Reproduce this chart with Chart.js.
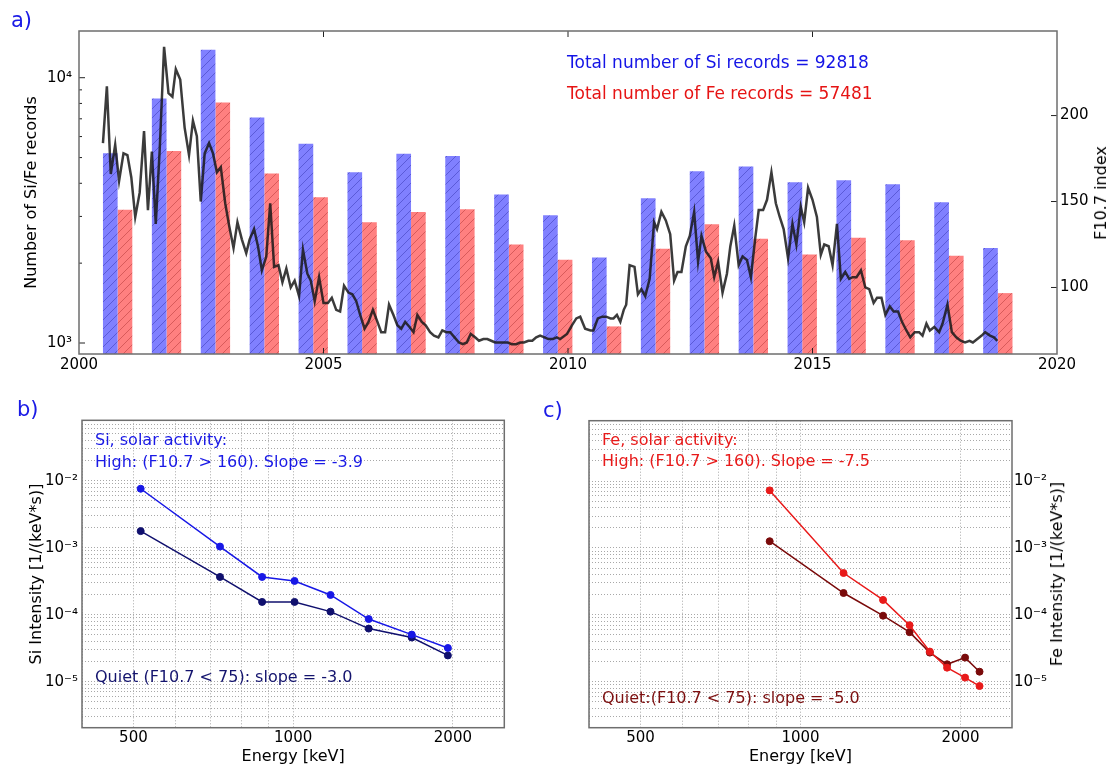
<!DOCTYPE html>
<html>
<head>
<meta charset="utf-8">
<script src="https://cdn.jsdelivr.net/npm/chart.js@4.4.1/dist/chart.umd.min.js"></script>
<style>
  html, body { margin: 0; padding: 0; background: #fff; }
  body { width: 1111px; height: 767px; position: relative; overflow: hidden; font-family: "DejaVu Sans", sans-serif; }
  canvas { position: absolute; }
  .t { position: absolute; white-space: nowrap; line-height: 1; transform: translateY(-50%); }
  .rot { position: absolute; white-space: nowrap; line-height: 1; transform: translate(-50%, -50%) rotate(-90deg); }
</style>
</head>
<body>
<canvas id="a" width="1111" height="380" style="left:0;top:0"></canvas>
<canvas id="b" width="555" height="387" style="left:0;top:380px"></canvas>
<canvas id="c" width="556" height="387" style="left:555px;top:380px"></canvas>

<div class="t" style="left:11px;top:20px;font-size:21px;color:#1a1ae6">a)</div>
<div class="t" style="left:567px;top:62px;font-size:17px;color:#1414e6">Total number of Si records = 92818</div>
<div class="t" style="left:567px;top:93px;font-size:17px;color:#e61414">Total number of Fe records = 57481</div>
<div class="rot" style="left:1101px;top:193px;font-size:16px;color:#000">F10.7 index</div>

<div class="t" style="left:17px;top:409px;font-size:21px;color:#1a1ae6">b)</div>
<div class="t" style="left:95px;top:440px;font-size:16px;color:#1a1ae6">Si, solar activity:</div>
<div class="t" style="left:95px;top:462px;font-size:16px;color:#1a1ae6">High: (F10.7 &gt; 160). Slope = -3.9</div>
<div class="t" style="left:95px;top:677px;font-size:16px;color:#14146e">Quiet (F10.7 &lt; 75): slope = -3.0</div>

<div class="t" style="left:543px;top:410px;font-size:21px;color:#1a1ae6">c)</div>
<div class="t" style="left:602px;top:440px;font-size:16px;color:#e81a1a">Fe, solar activity:</div>
<div class="t" style="left:602px;top:461px;font-size:16px;color:#e81a1a">High: (F10.7 &gt; 160). Slope = -7.5</div>
<div class="t" style="left:602px;top:698px;font-size:16px;color:#7d1010">Quiet:(F10.7 &lt; 75): slope = -5.0</div>
<div class="rot" style="left:1057px;top:574px;font-size:16px;color:#000">Fe Intensity [1/(keV*s)]</div>

<script>
// panel a: yearly record counts
const years = [2000, 2001, 2002, 2003, 2004, 2005, 2006, 2007, 2008, 2009,
               2010, 2011, 2012, 2013, 2014, 2015, 2016, 2017, 2018];
const siRecords = [5190, 8356, 12760, 7086, 5643, 4405, 5174, 5072, 3626, 3034,
                   2101, 3516, 4442, 4624, 4036, 4110, 3968, 3396, 2279];
const feRecords = [3177, 5297, 8071, 4351, 3545, 2855, 3120, 3196, 2350, 2059,
                   1155, 2265, 2806, 2470, 2156, 2492, 2442, 2132, 1542];

// panel a: F10.7 index
const fYears = [
  2000.49, 2000.57, 2000.65, 2000.74, 2000.82, 2000.91, 2000.99, 2001.07, 2001.15, 2001.24,
  2001.33, 2001.41, 2001.49, 2001.57, 2001.65, 2001.74, 2001.83, 2001.91, 2001.98, 2002.07,
  2002.16, 2002.25, 2002.33, 2002.41, 2002.49, 2002.57, 2002.66, 2002.74, 2002.82, 2002.90,
  2002.99, 2003.07, 2003.16, 2003.24, 2003.33, 2003.42, 2003.49, 2003.58, 2003.66, 2003.74,
  2003.83, 2003.91, 2003.99, 2004.08, 2004.16, 2004.24, 2004.33, 2004.41, 2004.50, 2004.58,
  2004.67, 2004.74, 2004.82, 2004.91, 2005.00, 2005.09, 2005.17, 2005.26, 2005.34, 2005.42,
  2005.51, 2005.59, 2005.67, 2005.75, 2005.84, 2005.92, 2006.01, 2006.09, 2006.18, 2006.26,
  2006.34, 2006.43, 2006.51, 2006.59, 2006.67, 2006.76, 2006.84, 2006.92, 2007.01, 2007.09,
  2007.18, 2007.26, 2007.35, 2007.43, 2007.51, 2007.59, 2007.68, 2007.77, 2007.85, 2007.93,
  2008.01, 2008.10, 2008.18, 2008.27, 2008.35, 2008.43, 2008.51, 2008.60, 2008.68, 2008.77,
  2008.85, 2008.94, 2009.02, 2009.10, 2009.19, 2009.27, 2009.35, 2009.43, 2009.52, 2009.60,
  2009.69, 2009.77, 2009.84, 2009.98, 2010.08, 2010.17, 2010.25, 2010.35, 2010.46, 2010.52,
  2010.61, 2010.70, 2010.78, 2010.87, 2010.93, 2011.00, 2011.07, 2011.14, 2011.19, 2011.26,
  2011.36, 2011.43, 2011.50, 2011.58, 2011.67, 2011.76, 2011.82, 2011.91, 2012.00, 2012.09,
  2012.17, 2012.24, 2012.32, 2012.41, 2012.49, 2012.58, 2012.66, 2012.73, 2012.82, 2012.92,
  2012.99, 2013.07, 2013.16, 2013.25, 2013.32, 2013.40, 2013.49, 2013.57, 2013.66, 2013.74,
  2013.83, 2013.90, 2013.99, 2014.07, 2014.16, 2014.25, 2014.33, 2014.41, 2014.50, 2014.59,
  2014.67, 2014.76, 2014.83, 2014.91, 2015.00, 2015.09, 2015.17, 2015.24, 2015.33, 2015.41,
  2015.50, 2015.58, 2015.67, 2015.75, 2015.82, 2015.90, 2015.99, 2016.08, 2016.16, 2016.25,
  2016.32, 2016.41, 2016.49, 2016.58, 2016.66, 2016.75, 2016.83, 2016.92, 2017.00, 2017.09,
  2017.18, 2017.25, 2017.33, 2017.40, 2017.49, 2017.59, 2017.66, 2017.76, 2017.85, 2017.94,
  2018.03, 2018.12, 2018.21, 2018.28, 2018.37, 2018.46, 2018.53, 2018.63, 2018.71, 2018.78];
const fIndex = [
  184, 217, 166, 183, 162, 178, 177, 164, 141, 155,
  191, 145, 179, 137, 180, 240, 213, 211, 227, 221,
  193, 177, 197, 188, 150, 178, 184, 178, 167, 170,
  149, 136, 123, 138, 128, 120, 128, 134, 124, 110,
  118, 149, 112, 113, 103, 111, 100, 104, 95, 122,
  108, 104, 92, 106, 91, 91, 94, 87, 86, 101,
  97, 96, 92, 84, 76, 80, 87, 81, 74, 74,
  90, 84, 78, 76, 80, 77, 74, 84, 80, 78,
  74, 72, 71, 75, 74, 74, 71, 68, 67, 68,
  73, 71, 69, 70, 70, 69, 68, 68, 68, 68,
  67, 67, 68, 68, 69, 69, 71, 72, 71, 70,
  70, 71, 70, 73, 78, 82, 83, 76, 75, 75,
  82, 83, 83, 82, 82, 84, 80, 87, 90, 113,
  112, 96, 99, 95, 105, 138, 134, 144, 139, 131,
  104, 109, 109, 124, 130, 144, 115, 130, 121, 117,
  106, 115, 97, 108, 124, 136, 113, 118, 116, 106,
  129, 145, 145, 151, 167, 149, 141, 134, 117, 137,
  125, 147, 138, 158, 151, 141, 119, 125, 124, 113,
  137, 105, 109, 105, 106, 106, 110, 100, 99, 91,
  94, 94, 84, 89, 86, 86, 80, 75, 71, 74,
  74, 72, 79, 75, 77, 74, 79, 90, 74, 71,
  69, 68, 69, 68, 70, 72, 74, 72, 71, 69];

// panels b and c: spectra
const siEnergy = [516, 728, 874, 1006, 1176, 1388, 1673, 1957];
const siHigh = [7.6e-3, 1.04e-3, 3.66e-4, 3.19e-4, 1.97e-4, 8.6e-5, 5.04e-5, 3.18e-5];
const siQuiet = [1.77e-3, 3.66e-4, 1.55e-4, 1.55e-4, 1.11e-4, 6.2e-5, 4.56e-5, 2.46e-5];
const feEnergy = [875, 1205, 1430, 1604, 1751, 1887, 2040, 2172];
const feHigh = [7.26e-3, 4.22e-4, 1.67e-4, 7.0e-5, 2.82e-5, 1.62e-5, 1.15e-5, 8.6e-6];
const feQuiet = [1.26e-3, 2.12e-4, 9.7e-5, 5.5e-5, 2.72e-5, 1.82e-5, 2.29e-5, 1.41e-5];

// ticks
const yearTicks = [2000, 2005, 2010, 2015, 2020];
const f107Ticks = [100, 150, 200];
const countTicks = [1000, 2000, 3000, 4000, 5000, 6000, 7000, 8000, 9000, 10000];
const energyTicks = [500, 1000, 2000];
const energyGrid = [400, 500, 600, 700, 800, 900, 1000, 2000];

Chart.defaults.font.family = '"DejaVu Sans", sans-serif';
Chart.defaults.font.size = 15;
Chart.defaults.color = '#000';

const SUP = { '-': '\u207B', '0': '\u2070', '1': '\u00B9', '2': '\u00B2', '3': '\u00B3',
              '4': '\u2074', '5': '\u2075', '6': '\u2076', '7': '\u2077', '8': '\u2078', '9': '\u2079' };
function pow10Label(v) {
  const e = Math.round(Math.log10(v));
  if (Math.abs(v / Math.pow(10, e) - 1) > 1e-6) return '';
  return '10' + String(e).split('').map(ch => SUP[ch]).join('');
}

const intensityGrid = [];
for (let e = -6; e <= -2; e++) {
  for (let m = 1; m <= 9; m++) {
    const v = m * Math.pow(10, e);
    if (v >= 2.05e-6 && v <= 0.08) intensityGrid.push(v);
  }
}

function hatch(canvas, fill, stroke) {
  const c = document.createElement('canvas');
  c.width = 9; c.height = 9;
  const g = c.getContext('2d');
  g.fillStyle = fill;
  g.fillRect(0, 0, 9, 9);
  g.strokeStyle = stroke;
  g.lineWidth = 1;
  g.beginPath();
  g.moveTo(0, 9); g.lineTo(9, 0);
  g.moveTo(-1, 1); g.lineTo(1, -1);
  g.moveTo(8, 10); g.lineTo(10, 8);
  g.stroke();
  return canvas.getContext('2d').createPattern(c, 'repeat');
}

// box around the plot area plus small inward tick marks
function frame(marks) {
  return {
    id: 'frame',
    afterDraw(chart) {
      const { ctx, chartArea: a } = chart;
      ctx.save();
      ctx.strokeStyle = '#222';
      ctx.lineWidth = 1;
      marks.forEach(m => {
        const s = chart.scales[m.scale];
        m.values.forEach(v => {
          const p = s.getPixelForValue(v);
          ctx.beginPath();
          m.sides.forEach(side => {
            if (side === 'left') { ctx.moveTo(a.left, p); ctx.lineTo(a.left + m.len, p); }
            if (side === 'right') { ctx.moveTo(a.right, p); ctx.lineTo(a.right - m.len, p); }
            if (side === 'bottom') { ctx.moveTo(p, a.bottom); ctx.lineTo(p, a.bottom - m.len); }
            if (side === 'top') { ctx.moveTo(p, a.top); ctx.lineTo(p, a.top + m.len); }
          });
          ctx.stroke();
        });
      });
      ctx.strokeStyle = '#6e6e6e';
      ctx.lineWidth = 1.5;
      ctx.strokeRect(a.left, a.top, a.right - a.left, a.bottom - a.top);
      ctx.restore();
    }
  };
}

// panel a
const canvasA = document.getElementById('a');
new Chart(canvasA, {
  type: 'bar',
  data: {
    datasets: [
      {
        type: 'line',
        data: fYears.map((x, i) => ({ x, y: fIndex[i] })),
        yAxisID: 'y2',
        borderColor: 'rgba(25,25,25,0.85)',
        borderWidth: 2.5,
        pointRadius: 0,
        tension: 0
      },
      {
        data: years.map((yr, i) => ({ x: yr + 0.79, y: siRecords[i] })),
        yAxisID: 'y',
        backgroundColor: hatch(canvasA, '#8080ff', '#5a5ad8'),
        categoryPercentage: 0.6,
        barPercentage: 1
      },
      {
        data: years.map((yr, i) => ({ x: yr + 0.79, y: feRecords[i] })),
        yAxisID: 'y',
        backgroundColor: hatch(canvasA, '#ff8080', '#d85a5a'),
        categoryPercentage: 0.6,
        barPercentage: 1
      }
    ]
  },
  options: {
    responsive: false,
    animation: false,
    events: [],
    layout: { padding: { top: 31, left: 0, right: 0, bottom: 0 } },
    plugins: { legend: { display: false }, tooltip: { enabled: false } },
    scales: {
      x: {
        type: 'linear', min: 2000, max: 2020, offset: false,
        afterBuildTicks: s => { s.ticks = yearTicks.map(v => ({ value: v })); },
        afterFit: s => { s.height = 26; },
        ticks: { padding: 2, maxRotation: 0, autoSkip: false, callback: v => String(v) },
        grid: { display: false, drawTicks: false, offset: false },
        border: { display: false }
      },
      y: {
        type: 'logarithmic', position: 'left', min: 909, max: 15000,
        afterBuildTicks: s => { s.ticks = countTicks.map(v => ({ value: v })); },
        afterFit: s => { s.width = 79; },
        ticks: { padding: 7, autoSkip: false, callback: v => pow10Label(v) },
        grid: { display: false, drawTicks: false },
        border: { display: false },
        title: { display: true, text: 'Number of Si/Fe records', font: { size: 16 }, padding: { top: 22, bottom: 0 } }
      },
      y2: {
        type: 'linear', position: 'right', min: 61.3, max: 249.2,
        afterBuildTicks: s => { s.ticks = f107Ticks.map(v => ({ value: v })); },
        afterFit: s => { s.width = 54; },
        ticks: { padding: 3, autoSkip: false, callback: v => String(v) },
        grid: { display: false, drawTicks: false },
        border: { display: false }
      }
    }
  },
  plugins: [frame([
    { scale: 'y', values: [1000, 10000], sides: ['left'], len: 6 },
    { scale: 'y', values: [2000, 3000, 4000, 5000, 6000, 7000, 8000, 9000], sides: ['left'], len: 3 },
    { scale: 'y2', values: f107Ticks, sides: ['right'], len: 6 },
    { scale: 'x', values: [2005, 2010, 2015], sides: ['bottom', 'top'], len: 6 }
  ])]
});

// panels b and c
const GRID = '#a8a8a8';
function spectrum(id, energy, high, quiet, colHigh, colQuiet, side, yWidth, pad, yTitle) {
  const yScale = {
    type: 'logarithmic', position: side, min: 2.05e-6, max: 0.08,
    afterBuildTicks: s => { s.ticks = intensityGrid.map(v => ({ value: v })); },
    afterFit: s => { s.width = yWidth; },
    ticks: { padding: side === 'left' ? 4 : 2, autoSkip: false, callback: v => pow10Label(v) },
    grid: { color: GRID, lineWidth: 1, drawTicks: false },
    border: { display: false, dash: [1, 2] }
  };
  if (yTitle) {
    yScale.title = { display: true, text: yTitle, font: { size: 16 }, padding: { top: 27, bottom: 0 } };
  }
  const series = (ys, col) => ({
    data: energy.map((x, i) => ({ x, y: ys[i] })),
    borderColor: col,
    backgroundColor: col,
    borderWidth: 1.5,
    pointRadius: 3.5,
    pointBorderWidth: 1,
    pointBorderColor: col,
    tension: 0
  });
  return new Chart(document.getElementById(id), {
    type: 'line',
    data: { datasets: [series(high, colHigh), series(quiet, colQuiet)] },
    options: {
      responsive: false,
      animation: false,
      events: [],
      layout: { padding: pad },
      plugins: { legend: { display: false }, tooltip: { enabled: false } },
      scales: {
        x: {
          type: 'logarithmic', min: 400, max: 2500,
          afterBuildTicks: s => { s.ticks = energyGrid.map(v => ({ value: v })); },
          afterFit: s => { s.height = 39.3; },
          ticks: { padding: 1, maxRotation: 0, autoSkip: false,
                   callback: v => energyTicks.includes(v) ? String(v) : '' },
          grid: { color: GRID, lineWidth: 1, drawTicks: false },
          border: { display: false, dash: [1, 2] },
          title: { display: true, text: 'Energy [keV]', font: { size: 16 }, padding: { top: 0, bottom: 1 } }
        },
        y: yScale
      }
    },
    plugins: [frame([])]
  });
}

spectrum('b', siEnergy, siHigh, siQuiet, '#1818e6', '#10106e', 'left', 82,
         { top: 40.3, left: 0, right: 50.7, bottom: 0 }, 'Si Intensity [1/(keV*s)]');
spectrum('c', feEnergy, feHigh, feQuiet, '#e81a1a', '#7a0a0a', 'right', 99,
         { top: 40.7, left: 34, right: 0, bottom: 0 }, null);
</script>
</body>
</html>
